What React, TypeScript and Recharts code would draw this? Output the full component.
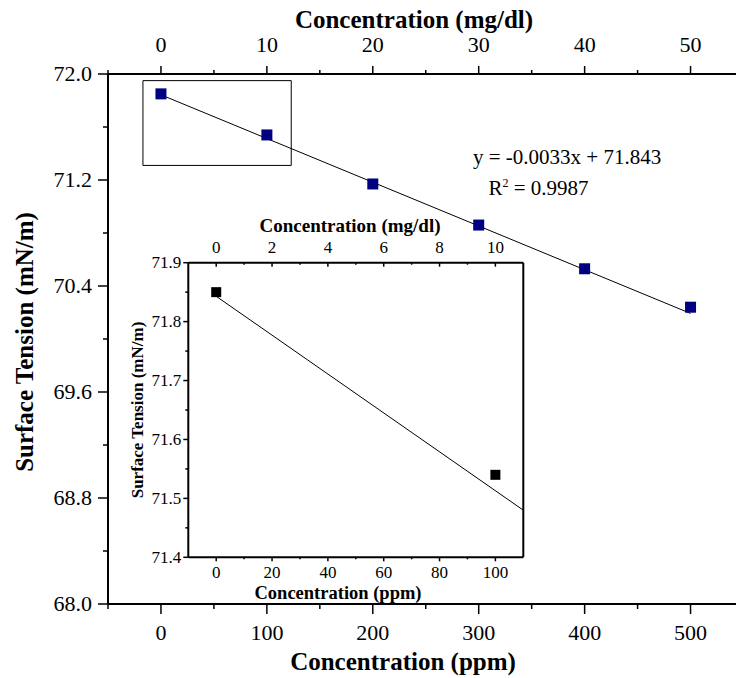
import React from 'react';
import { ScatterChart, Scatter, XAxis, YAxis, ReferenceArea, Label } from 'recharts';

// main panel: surface tension vs concentration
const ppm = [0, 100, 200, 300, 400, 500];
const tension = [71.85, 71.54, 71.17, 70.86, 70.53, 70.24];
// linear fit y = -0.0033x + 71.843 (end points)
const fitPpm = [0, 500];
const fitTension = [71.843, 70.193];

// inset: first two points
const insetPpm = [0, 100];
const insetTension = [71.85, 71.54];
const insetFitPpm = [0, 110];
const insetFitTension = [71.843, 71.48];

const mainXTicks = [-50, 0, 50, 100, 150, 200, 250, 300, 350, 400, 450, 500, 550];
const mainTopTicks = [-5, 0, 5, 10, 15, 20, 25, 30, 35, 40, 45, 50, 55];
const mainYTicks = [68, 68.4, 68.8, 69.2, 69.6, 70, 70.4, 70.8, 71.2, 71.6, 72];
const insetXTicks = [0, 10, 20, 30, 40, 50, 60, 70, 80, 90, 100];
const insetTopTicks = [0, 1, 2, 3, 4, 5, 6, 7, 8, 9, 10];
const insetYTicks = [71.4, 71.45, 71.5, 71.55, 71.6, 71.65, 71.7, 71.75, 71.8, 71.85, 71.9];

const FONT = '"Liberation Serif", "Times New Roman", serif';

const mainData = ppm.map((x, i) => ({ x, y: tension[i] }));
const fitData = fitPpm.map((x, i) => ({ x, y: fitTension[i] }));
const insetData = insetPpm.map((x, i) => ({ x, y: insetTension[i] }));
const insetFitData = insetFitPpm.map((x, i) => ({ x, y: insetFitTension[i] }));

type TickCfg = {
  side: 'top' | 'bottom' | 'left';
  inward?: boolean;
  isMajor: (v: number) => boolean;
  majorLen: number;
  minorLen: number;
  fontSize: number;
  offset: number; // baseline offset (top/bottom) or gap (left)
  fmt: (v: number) => string;
};

const makeTick = (cfg: TickCfg) => (props: any) => {
  const { x, y, payload } = props;
  const v = payload.value as number;
  const major = cfg.isMajor(v);
  const len = major ? cfg.majorLen : cfg.minorLen;
  let line;
  let label = null;
  if (cfg.side === 'left') {
    line = <line x1={x} y1={y} x2={x - len} y2={y} stroke="#000" strokeWidth={1.5} />;
    if (major)
      label = (
        <text x={x - cfg.offset} y={y + cfg.fontSize * 0.33} textAnchor="end" fontSize={cfg.fontSize} fontFamily={FONT} fill="#000">
          {cfg.fmt(v)}
        </text>
      );
  } else {
    const d = cfg.side === 'bottom' ? 1 : -1;
    const ld = cfg.inward ? -d : d;
    line = <line x1={x} y1={y} x2={x} y2={y + ld * len} stroke="#000" strokeWidth={1.5} />;
    if (major)
      label = (
        <text x={x} y={y + d * cfg.offset} textAnchor="middle" fontSize={cfg.fontSize} fontFamily={FONT} fill="#000">
          {cfg.fmt(v)}
        </text>
      );
  }
  return (
    <g>
      {line}
      {label}
    </g>
  );
};

const title = (text: string, fs: number, place: (vb: any) => { x: number; y: number; rot?: boolean }) => (props: any) => {
  const p = place(props.viewBox);
  return (
    <text
      x={p.x}
      y={p.y}
      textAnchor="middle"
      fontSize={fs}
      fontWeight="bold"
      fontFamily={FONT}
      fill="#000"
      transform={p.rot ? `rotate(-90 ${p.x} ${p.y})` : undefined}
    >
      {text}
    </text>
  );
};

const square = (side: number, color: string) => (props: any) => (
  <rect x={props.cx - side / 2} y={props.cy - side / 2} width={side} height={side} fill={color} />
);
const noShape = () => <g />;

const axisLine = { stroke: '#000', strokeWidth: 2 };

export default function App() {
  return (
    <div style={{ position: 'fixed', left: 0, top: 0, width: 736, height: 678, overflow: 'hidden', background: '#fff' }}>
      <div style={{ position: 'absolute', left: 0, top: 0 }}>
        <ScatterChart width={760} height={678} margin={{ top: 0, right: 16.5, bottom: 0, left: 0 }}>
          <XAxis
            xAxisId="b"
            type="number"
            dataKey="x"
            orientation="bottom"
            domain={[-50, 550]}
            allowDataOverflow
            ticks={mainXTicks}
            interval={0}
            height={74}
            axisLine={axisLine}
            tickLine={false}
            tickSize={0}
            tickMargin={0}
            tick={makeTick({ side: 'bottom', isMajor: (v) => v % 100 === 0, majorLen: 10, minorLen: 5, fontSize: 22, offset: 36, fmt: String })}
          >
            <Label content={title('Concentration (ppm)', 25, (vb) => ({ x: 403, y: vb.y + 66 }))} />
          </XAxis>
          <XAxis
            xAxisId="t"
            type="number"
            dataKey="x"
            orientation="top"
            domain={[-5, 55]}
            allowDataOverflow
            ticks={mainTopTicks}
            interval={0}
            height={74}
            axisLine={axisLine}
            tickLine={false}
            tickSize={0}
            tickMargin={0}
            tick={makeTick({ side: 'top', isMajor: (v) => v % 10 === 0, majorLen: 8, minorLen: 4, fontSize: 22, offset: 22, fmt: String })}
          >
            <Label content={title('Concentration (mg/dl)', 25, (vb) => ({ x: 414, y: vb.y + 28 }))} />
          </XAxis>
          <YAxis
            yAxisId="l"
            type="number"
            dataKey="y"
            domain={[68, 72]}
            allowDataOverflow
            ticks={mainYTicks}
            interval={0}
            width={108}
            axisLine={axisLine}
            tickLine={false}
            tickSize={0}
            tickMargin={0}
            tick={makeTick({ side: 'left', isMajor: (v) => Math.round(v * 10) % 8 === 0, majorLen: 10, minorLen: 5, fontSize: 22, offset: 16, fmt: (v) => v.toFixed(1) })}
          >
            <Label content={title('Surface Tension (mN/m)', 25, (vb) => ({ x: 33, y: vb.y + vb.height / 2 + 3, rot: true }))} />
          </YAxis>
          <ReferenceArea xAxisId="b" yAxisId="l" x1={-17} x2={123} y1={71.31} y2={71.95} fill="none" stroke="#000" strokeWidth={1} />
          <Scatter xAxisId="b" yAxisId="l" data={fitData} line={{ stroke: '#000', strokeWidth: 1 }} shape={noShape} isAnimationActive={false} />
          <Scatter xAxisId="b" yAxisId="l" data={mainData} shape={square(11, '#000080')} isAnimationActive={false} />
        </ScatterChart>
      </div>

      <div style={{ position: 'absolute', left: 0, top: 0 }}>
        <ScatterChart width={736} height={678} margin={{ top: 212.7, right: 202.7, bottom: 80.7, left: 128.3 }}>
          <XAxis
            xAxisId="b"
            type="number"
            dataKey="x"
            orientation="bottom"
            domain={[-10, 110]}
            allowDataOverflow
            ticks={insetXTicks}
            interval={0}
            height={40}
            axisLine={axisLine}
            tickLine={false}
            tickSize={0}
            tickMargin={0}
            tick={makeTick({ side: 'bottom', isMajor: (v) => v % 20 === 0, majorLen: 4, minorLen: 2, fontSize: 17, offset: 21, fmt: String })}
          >
            <Label content={title('Concentration (ppm)', 18.5, () => ({ x: 338, y: 599 }))} />
          </XAxis>
          <XAxis
            xAxisId="t"
            type="number"
            dataKey="x"
            orientation="top"
            domain={[-1, 11]}
            allowDataOverflow
            ticks={insetTopTicks}
            interval={0}
            height={50}
            axisLine={axisLine}
            tickLine={false}
            tickSize={0}
            tickMargin={0}
            tick={makeTick({ side: 'top', inward: true, isMajor: (v) => v % 2 === 0, majorLen: 4, minorLen: 2, fontSize: 17, offset: 9.5, fmt: String })}
          >
            <Label content={title('Concentration (mg/dl)', 19, () => ({ x: 350, y: 232 }))} />
          </XAxis>
          <YAxis
            yAxisId="l"
            type="number"
            dataKey="y"
            domain={[71.4, 71.9]}
            allowDataOverflow
            ticks={insetYTicks}
            interval={0}
            width={60}
            axisLine={axisLine}
            tickLine={false}
            tickSize={0}
            tickMargin={0}
            tick={makeTick({ side: 'left', isMajor: (v) => Math.round(v * 100) % 10 === 0, majorLen: 5, minorLen: 3, fontSize: 17, offset: 7, fmt: (v) => v.toFixed(1) })}
          >
            <Label content={title('Surface Tension (mN/m)', 17, (vb) => ({ x: 143, y: vb.y + vb.height / 2, rot: true }))} />
          </YAxis>
          <YAxis yAxisId="r" orientation="right" type="number" domain={[71.4, 71.9]} allowDataOverflow width={10} axisLine={axisLine} tickLine={false} tick={false} />
          <Scatter xAxisId="b" yAxisId="l" data={insetFitData} line={{ stroke: '#000', strokeWidth: 1 }} shape={noShape} isAnimationActive={false} />
          <Scatter xAxisId="b" yAxisId="l" data={insetData} shape={square(10, '#000')} isAnimationActive={false} />
        </ScatterChart>
      </div>

      <div style={{ position: 'absolute', left: 473, top: 147, fontFamily: FONT, fontSize: 21, lineHeight: '21px', whiteSpace: 'nowrap' }}>
        y = -0.0033x + 71.843
      </div>
      <div style={{ position: 'absolute', left: 488.5, top: 177.5, fontFamily: FONT, fontSize: 21, lineHeight: '21px', whiteSpace: 'nowrap' }}>
        R<span style={{ fontSize: 12, position: 'relative', top: -8 }}>2</span> = 0.9987
      </div>
    </div>
  );
}
